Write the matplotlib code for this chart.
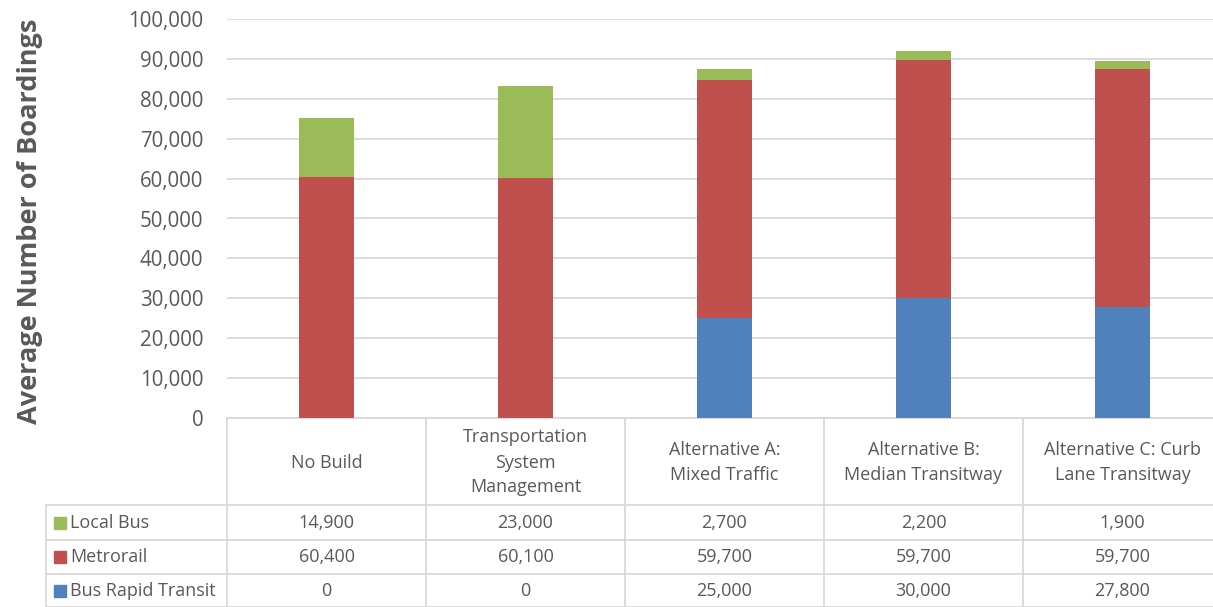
import matplotlib
matplotlib.use("Agg")
import matplotlib.pyplot as plt

categories = ["No Build", "Transportation\nSystem\nManagement", "Alternative A:\nMixed Traffic",
              "Alternative B:\nMedian Transitway", "Alternative C: Curb\nLane Transitway"]
series_names = ["Local Bus", "Metrorail", "Bus Rapid Transit"]
local_bus = [14900, 23000, 2700, 2200, 1900]
metrorail = [60400, 60100, 59700, 59700, 59700]
brt = [0, 0, 25000, 30000, 27800]
colors = {"Local Bus": "#9BBB59", "Metrorail": "#C0504D", "Bus Rapid Transit": "#4F81BD"}
yticks = list(range(0, 100001, 10000))

W, H = 1213, 607
fig = plt.figure(figsize=(W / 100, H / 100), dpi=100)
plt.rcParams['font.family'] = ['Open Sans', 'DejaVu Sans']
txt = "#595959"
grid = "#D9D9D9"
fs_tab = 13
fs_tick = 14.8

ax_l, ax_r, ax_t, ax_b = 227, 1222, 19, 418
ax = fig.add_axes([ax_l / W, 1 - ax_b / H, (ax_r - ax_l) / W, (ax_b - ax_t) / H])
x = list(range(len(categories)))
bw = 0.277
ax.bar(x, brt, bw, color=colors["Bus Rapid Transit"], zorder=3)
ax.bar(x, metrorail, bw, bottom=brt, color=colors["Metrorail"], zorder=3)
bot2 = [a + b for a, b in zip(brt, metrorail)]
ax.bar(x, local_bus, bw, bottom=bot2, color=colors["Local Bus"], zorder=3)
ax.set_xlim(-0.5, len(categories) - 0.5)
ax.set_ylim(0, 100000)
ax.set_yticks(yticks)
ax.set_yticklabels([f"{v:,}" for v in yticks], fontsize=fs_tick, color=txt)
ax.tick_params(axis='y', length=0, pad=17)
ax.set_xticks([])
ax.yaxis.grid(True, color=grid, lw=1.3, zorder=0)
for s in ["top", "right", "left"]:
    ax.spines[s].set_visible(False)
ax.spines["bottom"].set_color(grid)
ax.spines["bottom"].set_linewidth(1.3)

fig.text(30 / W, 1 - 221 / H, "Average Number of Boardings", rotation=90, fontsize=19.5,
         fontweight='bold', color=txt, ha='center', va='center')

# data table drawn in pixel coordinates
tab = fig.add_axes([0, 0, 1, 1], facecolor='none')
tab.set_xlim(0, W)
tab.set_ylim(H, 0)
tab.axis('off')
colw = (ax_r - ax_l) / len(categories)
row_y = [418, 505, 540, 574, 607]
lc = dict(color=grid, lw=1.3)
for i in range(len(categories) + 1):
    xx = ax_l + i * colw
    tab.plot([xx, xx], [418, 607], **lc)
tab.plot([46, 46], [505, 607], **lc)
for yy in row_y[1:]:
    tab.plot([46, ax_r], [yy, yy], **lc)
for i, c in enumerate(categories):
    cx = ax_l + (i + 0.5) * colw
    tab.text(cx, (row_y[0] + row_y[1]) / 2 + 1, c, ha='center', va='center', fontsize=fs_tab,
             color=txt, linespacing=1.5)
rows = [local_bus, metrorail, brt]
for r, (name, vals) in enumerate(zip(series_names, rows)):
    cy = (row_y[r + 1] + row_y[r + 2]) / 2
    tab.add_patch(plt.Rectangle((54, cy - 6), 12, 12, color=colors[name]))
    tab.text(70, cy, name, ha='left', va='center', fontsize=fs_tab, color=txt)
    for i, v in enumerate(vals):
        cx = ax_l + (i + 0.5) * colw
        tab.text(cx, cy, f"{v:,}", ha='center', va='center', fontsize=fs_tab, color=txt)

fig.savefig("out.png", dpi=100)
